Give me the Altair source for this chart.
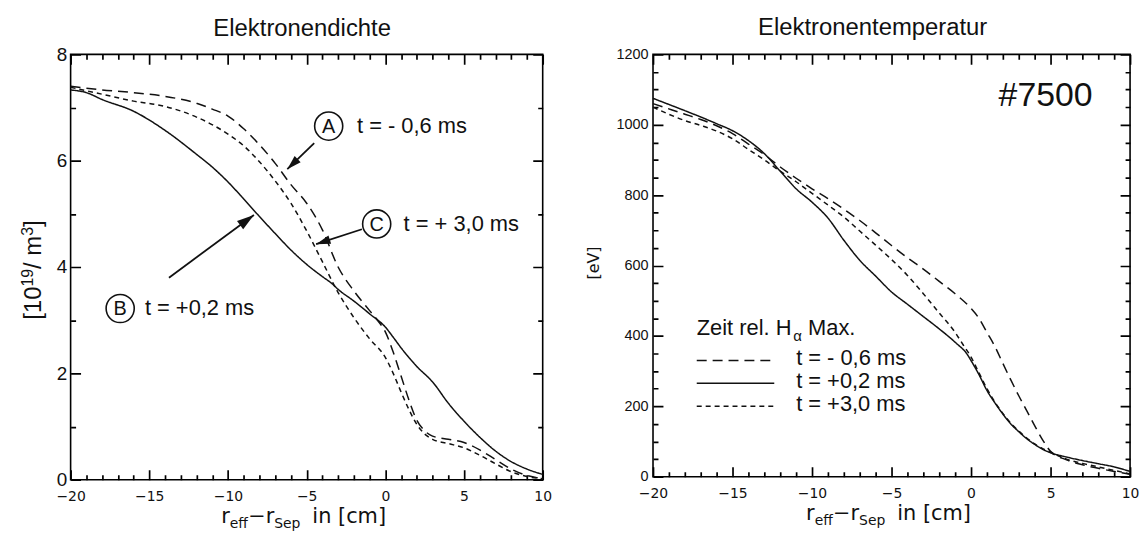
import math
import altair as alt
import pandas as pd

# ---------------- data: Elektronendichte [10^19 / m^3] ----------------
ne_A_x = [-20, -18, -16, -14, -12, -11, -10, -9, -8, -7, -6, -5, -4, -3, -2, -1, -0.5, 0, 0.5, 1, 1.5, 2, 2.5, 3, 4, 5, 6, 7, 8, 9, 10]
ne_A_y = [7.40, 7.33, 7.28, 7.21, 7.08, 6.97, 6.84, 6.60, 6.30, 5.95, 5.55, 5.20, 4.70, 4.00, 3.55, 3.18, 3.00, 2.78, 2.40, 1.95, 1.50, 1.12, 0.92, 0.82, 0.76, 0.70, 0.56, 0.38, 0.20, 0.08, 0.02]

ne_B_x = [-20, -19, -18, -16, -14, -12, -11, -10, -9, -8, -7, -6, -5, -4, -3.4, -3, -2, -1, 0, 0.5, 1, 2, 3, 4, 5, 6, 7, 8, 9, 10]
ne_B_y = [7.33, 7.28, 7.15, 6.93, 6.57, 6.12, 5.88, 5.60, 5.28, 4.95, 4.63, 4.32, 4.05, 3.82, 3.69, 3.58, 3.36, 3.12, 2.87, 2.68, 2.48, 2.13, 1.84, 1.44, 1.10, 0.80, 0.54, 0.34, 0.20, 0.10]

ne_C_x = [-20, -18, -16, -14, -12, -10, -9, -8, -7, -6, -5, -4, -3, -2, -1, 0, 0.5, 1, 1.5, 2, 2.5, 3, 4, 5, 6, 7, 8, 9, 10]
ne_C_y = [7.38, 7.25, 7.12, 7.02, 6.82, 6.50, 6.28, 5.98, 5.62, 5.20, 4.68, 4.10, 3.52, 3.05, 2.65, 2.30, 2.00, 1.65, 1.32, 1.04, 0.86, 0.76, 0.68, 0.60, 0.46, 0.30, 0.15, 0.06, 0.02]

# ---------------- data: Elektronentemperatur [eV] ----------------
te_A_x = [-20, -18, -17, -16, -15, -14, -13, -12, -11, -10, -9, -8, -7, -6, -5, -4, -3, -2, -1, 0, 0.5, 1, 1.5, 2, 2.5, 3, 3.5, 4, 4.5, 5, 6, 7, 8, 9, 10]
te_A_y = [1060, 1030, 1015, 997, 975, 945, 915, 880, 848, 818, 790, 760, 728, 693, 657, 622, 590, 555, 520, 478, 450, 410, 370, 322, 275, 230, 188, 145, 105, 72, 48, 34, 24, 15, 7]

te_B_x = [-20, -18, -17, -16, -15, -14, -13, -12, -11, -10, -9, -8, -7, -6, -5, -4, -3, -2, -1, -0.2, 0, 0.5, 1, 1.5, 2, 2.5, 3, 3.5, 4, 4.5, 5, 6, 7, 8, 9, 10]
te_B_y = [1075, 1040, 1022, 1003, 983, 955, 918, 868, 818, 780, 735, 672, 615, 570, 525, 490, 455, 420, 382, 345, 330, 290, 245, 210, 178, 150, 128, 108, 92, 78, 68, 56, 46, 37, 28, 15]

te_C_x = [-20, -18, -17, -16, -15, -14, -13, -12, -11, -10, -9, -8, -7, -6, -5, -4, -3, -2, -1, -0.5, 0, 0.5, 1, 1.5, 2, 2.5, 3, 3.5, 4, 4.5, 5, 6, 7, 8, 9, 10]
te_C_y = [1050, 1012, 998, 982, 960, 930, 900, 868, 838, 805, 772, 738, 698, 658, 617, 572, 520, 465, 410, 375, 340, 295, 250, 212, 180, 152, 130, 110, 93, 80, 70, 50, 38, 28, 18, 8]

# ---------------- axes (all tick positions; majors every 5 cm / 2 units / 200 eV) ----------------
x_ticks = list(range(-20, 11))
ne_ticks = [0.5 * i for i in range(17)]
te_ticks = [50 * i for i in range(25)]
X_DOM = [-20, 10]
NE_DOM = [0, 8]
TE_DOM = [0, 1200]

# ---------------- annotations (left panel, data coordinates) ----------------
ann_letter = ["A", "C", "B"]
ann_cx = [-3.6, -0.55, -16.85]
ann_cy = [6.65, 4.81, 3.22]
ann_text = ["t = - 0,6 ms", "t = + 3,0 ms", "t = +0,2 ms"]
ann_tx = [-1.8, 1.16, -15.28]
arrow_x0 = [-4.52, -1.49, -13.75]
arrow_y0 = [6.33, 4.71, 3.80]
arrow_x1 = [-6.23, -4.40, -8.35]
arrow_y1 = [5.84, 4.43, 4.98]

legend_labels = ["t = - 0,6 ms", "t = +0,2 ms", "t = +3,0 ms"]
shot_label = "#7500"

# ---------------- style ----------------
INK = "#111111"
SANS = "Liberation Sans"
THIN = "DejaVu Sans"
W1, H1 = 475, 428
W2, H2 = 480, 425
DASH = {"A": [10, 6], "B": [1, 0], "C": [5, 4]}
HEAD = "M0,0L0.6,2L-0.6,2Z"
HEAD_SIZE = {"A": 210, "C": 210, "B": 300}
MAJ, MIN = 10, 5  # inward tick lengths in pixels

one = pd.DataFrame({"k": [0]})


def txt(text, x, y, size, font=SANS, align="center", baseline="middle", angle=0):
    return alt.Chart(one).mark_text(
        text=text, fontSize=size, font=font, align=align, baseline=baseline,
        angle=angle, color=INK
    ).encode(x=alt.value(x), y=alt.value(y))


DJV = {"r": 0.411, "e": 0.615, "f": 0.352, "−": 0.838, "S": 0.635, "p": 0.635,
       " ": 0.318, "i": 0.278, "n": 0.634, "[": 0.390, "c": 0.550, "m": 0.974, "]": 0.390}
LIB = {"[": 0.278, "]": 0.278, "/": 0.278, " ": 0.278, "m": 0.833}


def xtitle(W, H):
    main, sub = 21, 14
    segs = [("r", main, 0, 0), ("eff", sub, 5, 0), ("−", main, 0, 0), ("r", main, 0, 0),
            ("Sep", sub, 5, 12), ("in [cm]", main, 0, 0)]
    widths = [sum(DJV.get(ch, 0.6) for ch in s) * sz + gap for s, sz, _, gap in segs]
    x = W / 2 - 3 - sum(widths) / 2
    out = []
    for (s, sz, dy, gap), w in zip(segs, widths):
        out.append(txt(s, x, H + 44 + dy, sz, font=THIN, align="left", baseline="alphabetic"))
        x += w
    return out


def ytitle_left():
    main, sup = 24, 16
    segs = [("[10", main, 0), ("19", sup, 8), ("/ m", main, 0), ("3", sup, 8), ("]", main, 0)]
    widths = [sum(LIB.get(ch, 0.556) for ch in s) * sz for s, sz, _ in segs]
    y = 217 + sum(widths) / 2
    out = []
    for (s, sz, up), w in zip(segs, widths):
        out.append(txt(s, -30 - up, y, sz, align="left", baseline="alphabetic", angle=270))
        y -= w
    return out


def tick_axis(values, major_test, span, **kw):
    """Axis whose grid lines are dashed so that only short inward ticks remain at both frame edges."""
    return alt.Axis(
        values=values, title=None, ticks=False, domain=False, grid=True,
        gridColor="#000000", gridWidth=1.7, gridOpacity=1,
        gridDash={"condition": {"test": major_test, "value": [MAJ, span - 2 * MAJ]},
                  "value": [MIN, span - 2 * MIN]},
        labelExpr=f"({major_test}) ? datum.label : ''",
        labelColor=INK, labelFlush=False, labelOverlap=False, format="d", **kw)


def curves(series, xs, ys, xax, yax):
    out = []
    for key, xv, yv in series:
        d = pd.DataFrame({"x": xv, "y": yv})
        out.append(alt.Chart(d).mark_line(color=INK, strokeWidth=1.5, strokeDash=DASH[key],
                                          interpolate="monotone").encode(
            x=alt.X("x:Q", scale=xs, axis=xax), y=alt.Y("y:Q", scale=ys, axis=yax)))
    return out


xs = alt.Scale(domain=X_DOM, nice=False, zero=False, padding=0)

# ---------------- left panel ----------------
xax1 = tick_axis(x_ticks, "datum.value % 5 === 0", H1, labelFont=THIN, labelFontSize=14, labelPadding=10)
ys1 = alt.Scale(domain=NE_DOM, nice=False, zero=False, padding=0)
yax1 = tick_axis(ne_ticks, "datum.value % 2 === 0", W1, labelFont=SANS, labelFontSize=19, labelPadding=4)

L = []
L += curves([("A", ne_A_x, ne_A_y), ("B", ne_B_x, ne_B_y), ("C", ne_C_x, ne_C_y)], xs, ys1, xax1, yax1)

kx, ky = W1 / 30.0, H1 / 8.0
arr = pd.DataFrame({
    "x0": arrow_x0, "y0": arrow_y0, "x1": arrow_x1, "y1": arrow_y1, "k": ann_letter,
})
arr["ang"] = [(math.degrees(math.atan2((b - a) * kx, (d - c) * ky)) + 360) % 360
              for a, b, c, d in zip(arr.x0, arr.x1, arr.y0, arr.y1)]
L.append(alt.Chart(arr).mark_rule(color=INK, strokeWidth=1.8).encode(
    x=alt.X("x0:Q", scale=xs, axis=xax1), y=alt.Y("y0:Q", scale=ys1, axis=yax1), x2="x1:Q", y2="y1:Q"))
for k in ann_letter:
    L.append(alt.Chart(arr[arr.k == k]).mark_point(shape=HEAD, filled=True, fill=INK, strokeWidth=0,
                                                   size=HEAD_SIZE[k], opacity=1).encode(
        x=alt.X("x1:Q", scale=xs, axis=xax1), y=alt.Y("y1:Q", scale=ys1, axis=yax1),
        angle=alt.Angle("ang:Q", scale=None)))

ann = pd.DataFrame({"cx": ann_cx, "cy": ann_cy, "letter": ann_letter, "label": ann_text, "tx": ann_tx})
L.append(alt.Chart(ann).mark_point(shape="circle", size=800, filled=False, color=INK, strokeWidth=1.6,
                                   opacity=1).encode(
    x=alt.X("cx:Q", scale=xs, axis=xax1), y=alt.Y("cy:Q", scale=ys1, axis=yax1)))
L.append(alt.Chart(ann).mark_text(font=SANS, fontSize=20, color=INK, dy=1).encode(
    x=alt.X("cx:Q", scale=xs, axis=xax1), y=alt.Y("cy:Q", scale=ys1, axis=yax1), text="letter:N"))
L.append(alt.Chart(ann).mark_text(font=SANS, fontSize=22, color=INK, align="left").encode(
    x=alt.X("tx:Q", scale=xs, axis=xax1), y=alt.Y("cy:Q", scale=ys1, axis=yax1), text="label:N"))

L.append(txt("Elektronendichte", 233, -18, 24, baseline="alphabetic"))
L += ytitle_left()
L += xtitle(W1, H1)
# invisible layout anchor (fixes the top-left corner of the figure)
L.append(alt.Chart(one).mark_rule(opacity=0).encode(x=alt.value(-62), y=alt.value(-44), y2=alt.value(-43)))

left = alt.layer(*L).properties(width=W1, height=H1)

# ---------------- right panel ----------------
xax2 = tick_axis(x_ticks, "datum.value % 5 === 0", H2, labelFont=THIN, labelFontSize=14, labelPadding=10)
ys2 = alt.Scale(domain=TE_DOM, nice=False, zero=False, padding=0)
yax2 = tick_axis(te_ticks, "datum.value % 200 === 0", W2, labelFont=SANS, labelFontSize=14.5, labelPadding=5)

R = []
R += curves([("A", te_A_x, te_A_y), ("B", te_B_x, te_B_y), ("C", te_C_x, te_C_y)], xs, ys2, xax2, yax2)

R.append(txt("Elektronentemperatur", 221, -19, 24, baseline="alphabetic"))
R.append(txt("[eV]", -59, 210, 16, font=THIN, angle=270))
R.append(txt(shot_label, 395, 52, 34, baseline="alphabetic"))
R += xtitle(W2, H2)

# legend (drawn as text + sample strokes)
R.append(txt("Zeit rel. H", 44, 275, 22, align="left"))
R.append(txt("α", 141, 283, 15, align="left"))
R.append(txt("Max.", 156, 275, 22, align="left"))
row_y = [308, 331, 354]
for key, lab, yy in zip(["A", "B", "C"], legend_labels, row_y):
    R.append(alt.Chart(one).mark_rule(color=INK, strokeWidth=1.5, strokeDash=DASH[key]).encode(
        x=alt.value(44), x2=alt.value(122), y=alt.value(yy)))
    R.append(txt(lab, 144, yy - 2, 22, align="left"))

right = alt.layer(*R).properties(width=W2, height=H2)

chart = alt.hconcat(left, right, spacing=111, bounds="flush").properties(
    padding=0, background="white"
).configure_view(stroke="#000000", strokeWidth=1.6)

chart.save("out.html", embed_options={"renderer": "svg", "actions": False})
